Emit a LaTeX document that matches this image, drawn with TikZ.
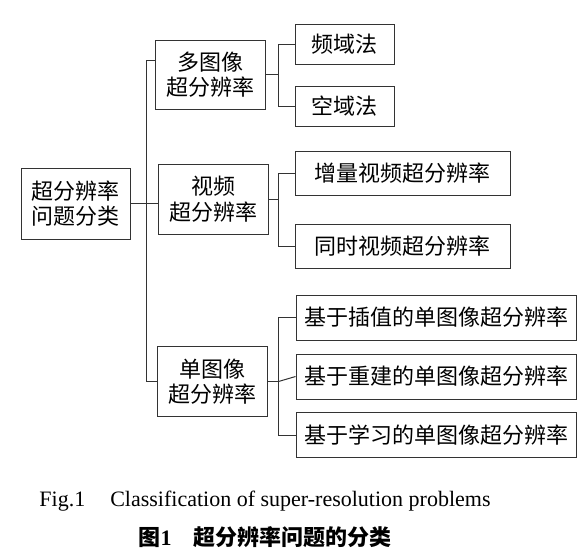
\documentclass[tikz,border=0pt]{standalone}
\usepackage{fontspec}
\setmainfont{Liberation Serif}
\newfontfamily\cjk{Noto Sans CJK SC}
\usetikzlibrary{calc}
\tikzset{
	box/.style={draw=black!80, line width=1pt, rectangle, inner sep=0pt, align=center, font=\cjk\fontsize{22}{25.5}\selectfont},
	link/.style={draw=black!80, line width=1pt}
}

\begin{document}
\begin{tikzpicture}[x=1pt, y=-1pt]
		%%%%% START %%%%%
		\useasboundingbox (0, 0) rectangle (581, 558);
		
		\node[box, minimum width=109, minimum height=71] (root) at (75.5, 203.5) {超分辨率\\问题分类};
		
		\node[box, minimum width=110, minimum height=69] (multi) at (210, 74.5) {多图像\\超分辨率};
		\node[box, minimum width=110, minimum height=70] (video) at (213, 199) {视频\\超分辨率};
		\node[box, minimum width=110, minimum height=70] (single) at (212, 381.5) {单图像\\超分辨率};
		
		\node[box, minimum width=99, minimum height=40] (freq) at (344.5, 44) {频域法};
		\node[box, minimum width=99, minimum height=40] (spatial) at (344.5, 106) {空域法};
		
		\node[box, minimum width=215, minimum height=44] (incr) at (402.5, 173) {增量视频超分辨率};
		\node[box, minimum width=215, minimum height=44] (simul) at (402.5, 246.5) {同时视频超分辨率};
		
		\node[box, minimum width=280, minimum height=45] (interp) at (436, 317.5) {基于插值的单图像超分辨率};
		\node[box, minimum width=280, minimum height=45] (recon) at (436, 376.5) {基于重建的单图像超分辨率};
		\node[box, minimum width=280, minimum height=45] (learn) at (436, 435) {基于学习的单图像超分辨率};
		
		\coordinate (bus) at ($(root.east)+(16, 0)$);
		\coordinate (mfork) at ($(multi.east)+(13, 0)$);
		\coordinate (vfork) at ($(video.east)+(10, 0)$);
		\coordinate (sfork) at ($(single.east)+(11, 0)$);
		
		\draw[link] (root.east) -- (root.east -| video.west);
		\draw[link] ([yshift=14.5pt]multi.west) -| (bus) |- (single.west);
		
		\draw[link] (multi.east) -- (mfork);
		\draw[link] (freq.west) -| (mfork) |- (spatial.west);
		
		\draw[link] (video.east) -- (vfork);
		\draw[link] (incr.west) -| (vfork) |- (simul.west);
		
		\draw[link] (single.east) -- (sfork);
		\draw[link] (interp.west) -| (sfork) |- (learn.west);
		\draw[link] (sfork) -- (recon.west);
		
		\node[anchor=base, font=\fontsize{22}{26}\selectfont] (caption) at (265, 506) {Fig.1\hspace{25pt}Classification of super-resolution problems};
		\node[anchor=base, font=\cjk\bfseries\fontsize{22}{26}\selectfont] (captioncn) at (265, 545) {图{\rmfamily\bfseries 1}\hspace{22pt}超分辨率问题的分类};
		
		%%%%% END %%%%%
	\end{tikzpicture}
\end{document}
